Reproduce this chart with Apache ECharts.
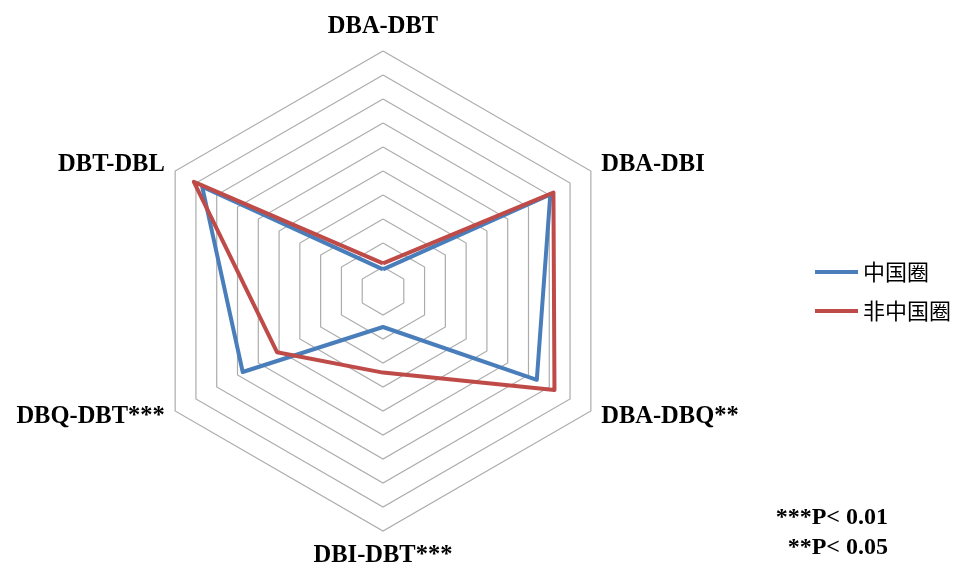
<!DOCTYPE html>
<html>
<head>
<meta charset="utf-8">
<style>
  html, body { margin: 0; padding: 0; background: #fff; }
  #chart { width: 968px; height: 570px; }
</style>
<script src="https://cdn.jsdelivr.net/npm/echarts@6/dist/echarts.min.js"></script>
</head>
<body>
<div id="chart"></div>
<script>
// Axes listed counter-clockwise from the top, as the radar lays them out
const indicatorNames = ['DBA-DBT', 'DBT-DBL', 'DBQ-DBT***', 'DBI-DBT***', 'DBA-DBQ**', 'DBA-DBI'];
const seriesNames = ['中国圈', '非中国圈'];
const chinaValues = [0.9, 8.7, 6.75, 1.5, 7.4, 8.05];
const nonChinaValues = [1.15, 9.1, 5.1, 3.4, 8.25, 8.2];
const axisMax = 10;
const noteLines = ['***P< 0.01', '**P< 0.05'];

const chart = echarts.init(document.getElementById('chart'));
const serif = '"Liberation Serif", "Times New Roman", serif';

chart.setOption({
  animation: false,
  backgroundColor: '#ffffff',
  legend: {
    orient: 'vertical',
    left: 810,
    top: 256,
    itemGap: 17,
    itemWidth: 43,
    itemHeight: 4,
    icon: 'rect',
    textStyle: { fontFamily: '"Noto Sans CJK SC", sans-serif', fontSize: 22, color: '#000', padding: [0, 0, 0, 0] },
    data: seriesNames
  },
  radar: {
    center: [383, 291],
    radius: 240,
    splitNumber: 10,
    shape: 'polygon',
    nameGap: 12,
    axisName: {
      color: '#000',
      fontFamily: serif,
      fontWeight: 'bold',
      fontSize: 24.5
    },
    splitLine: { lineStyle: { color: '#acacac', width: 1.2 } },
    splitArea: { show: false },
    axisLine: { show: false },
    indicator: indicatorNames.map(n => ({ name: n, min: 0, max: axisMax }))
  },
  series: [{
    type: 'radar',
    symbol: 'none',
    data: [
      {
        name: seriesNames[0],
        value: chinaValues,
        lineStyle: { color: '#4a7ebb', width: 4 },
        itemStyle: { color: '#4a7ebb' }
      },
      {
        name: seriesNames[1],
        value: nonChinaValues,
        lineStyle: { color: '#be4b48', width: 4 },
        itemStyle: { color: '#be4b48' }
      }
    ]
  }],
  graphic: noteLines.map((t, i) => ({
    type: 'text',
    right: 80,
    top: 506 + i * 30,
    style: {
      text: t,
      fill: '#000',
      font: 'bold 24px ' + serif,
      textAlign: 'right'
    }
  }))
});
</script>
</body>
</html>
